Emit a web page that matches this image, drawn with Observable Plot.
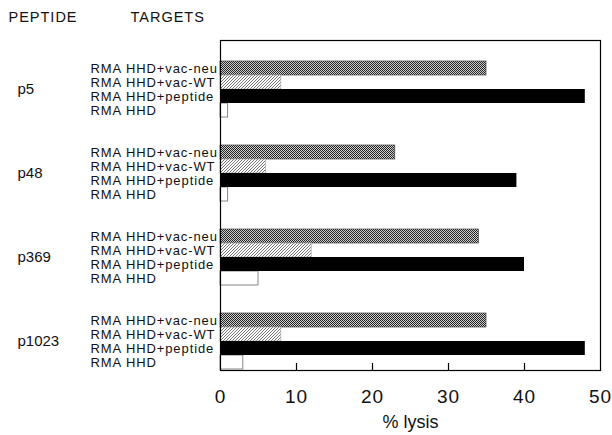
<!DOCTYPE html>
<html>
<head>
<meta charset="utf-8">
<script src="https://cdn.jsdelivr.net/npm/d3@7"></script>
<script src="https://cdn.jsdelivr.net/npm/@observablehq/plot@0.6"></script>
<style>
  html, body { margin: 0; padding: 0; background: #fff; }
</style>
</head>
<body>
<div id="chart"></div>
<script>
const peptides = ["p5", "p48", "p369", "p1023"];
const targets = ["RMA HHD+vac-neu", "RMA HHD+vac-WT", "RMA HHD+peptide", "RMA HHD"];
const vacNeu = [35, 23, 34, 35];
const vacWT = [8, 6, 12, 8];
const peptideLysis = [48, 39, 40, 48];
const hhdLysis = [1, 1, 5, 3];
const xTicks = [0, 10, 20, 30, 40, 50];
const headers = ["PEPTIDE", "TARGETS"];

const series = [vacNeu, vacWT, peptideLysis, hhdLysis];
const rows = [];
const domain = [];
peptides.forEach((p, i) => {
  targets.forEach((t, j) => {
    const key = p + "|" + t;
    rows.push({peptide: p, target: t, key, value: series[j][i]});
    domain.push(key);
  });
  if (i < peptides.length - 1) domain.push("gap" + i + "a", "gap" + i + "b");
});
const byTarget = t => rows.filter(d => d.target === t);
const pepLabels = peptides.map(p => ({peptide: p, key: p + "|" + targets[1]}));

const font = "Liberation Sans, Arial, Helvetica, sans-serif";

const svg = Plot.plot({
  width: 612,
  height: 435,
  marginLeft: 220,
  marginRight: 12,
  marginTop: 40,
  marginBottom: 65,
  style: {fontFamily: font, color: "#111", background: "white"},
  x: {domain: [0, 50]},
  y: {type: "band", domain, range: [61, 369], padding: 0, axis: null},
  marks: [
    Plot.barX(byTarget(targets[3]), {x: "value", y: "key", fill: "white", stroke: "#888", strokeWidth: 1}),
    Plot.barX(byTarget(targets[0]), {x: "value", y: "key", fill: "url(#neu)", stroke: "#444", strokeWidth: 0.7}),
    Plot.barX(byTarget(targets[1]), {x: "value", y: "key", fill: "url(#wt)", stroke: "#aaa", strokeWidth: 0.7}),
    Plot.barX(byTarget(targets[2]), {x: "value", y: "key", fill: "black"}),
    Plot.frame({stroke: "black", strokeWidth: 1.2}),
    Plot.ruleX(xTicks.slice(1, -1), {insetTop: 323, stroke: "black", strokeWidth: 1.2}),
    Plot.axisX({ticks: xTicks, tickSize: 0, tickPadding: 19, fontSize: 19, label: null, tickFormat: d => String(d)}),
    Plot.text(["% lysis"], {frameAnchor: "bottom", dy: 52, text: d => d, fontSize: 18, lineAnchor: "middle"}),
    Plot.text(rows, {y: "key", text: "target", frameAnchor: "left", textAnchor: "start", dx: -130, fontSize: 13}),
    Plot.text(pepLabels, {y: "key", text: "peptide", frameAnchor: "left", textAnchor: "start", dx: -203, dy: 7, fontSize: 15}),
    Plot.text([headers[0]], {frameAnchor: "top-left", text: d => d, textAnchor: "start", lineAnchor: "middle", dx: -212, dy: -23, fontSize: 14.5}),
    Plot.text([headers[1]], {frameAnchor: "top-left", text: d => d, textAnchor: "start", lineAnchor: "middle", dx: -90, dy: -23, fontSize: 14.5})
  ]
});

const ns = "http://www.w3.org/2000/svg";
const defs = document.createElementNS(ns, "defs");
defs.innerHTML = `
  <pattern id="neu" patternUnits="userSpaceOnUse" width="2" height="2">
    <rect width="2" height="2" fill="#d0d0d0"/>
    <rect x="0" y="0" width="1" height="1" fill="#222"/>
    <rect x="1" y="1" width="1" height="1" fill="#222"/>
  </pattern>
  <pattern id="wt" patternUnits="userSpaceOnUse" width="3" height="3">
    <rect width="3" height="3" fill="white"/>
    <path d="M-1,1 L1,-1 M0,3 L3,0 M2,4 L4,2" stroke="#666" stroke-width="0.9"/>
  </pattern>`;
svg.insertBefore(defs, svg.firstChild);
svg.querySelectorAll("text").forEach(t => {
  const s = t.textContent;
  if (targets.includes(s)) t.style.letterSpacing = "0.9px";
  else if (headers.includes(s)) t.style.letterSpacing = "1px";
  else if (/^\d+$/.test(s)) t.style.letterSpacing = "1px";
});
document.getElementById("chart").appendChild(svg);
</script>
</body>
</html>
